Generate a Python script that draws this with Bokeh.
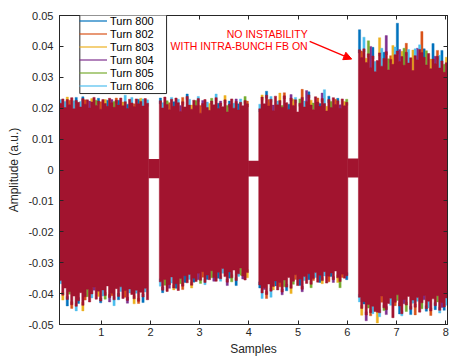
from bokeh.plotting import figure
from bokeh.models import (Range1d, FixedTicker, LinearAxis, Label, Arrow, NormalHead,
                          Legend, LegendItem, ColumnDataSource, BoxAnnotation)
from bokeh.embed import file_html
from bokeh.resources import INLINE

# ---------------- data ----------------
turns = ["Turn 800", "Turn 802", "Turn 803", "Turn 804", "Turn 805", "Turn 806"]
turn_colors = ["#0072BD", "#D95319", "#EDB120", "#7E2F8E", "#77AC30", "#4DBEEE"]
last_turn_color = "#A2142F"

batch_start = [1520, 21800, 42000, 62250]   # samples
batch_len = 18100                            # samples
amp_unit = 1e-3                              # values below in 1e-3 a.u.

# per-bunch envelope of the last (top-most) turn: upper / lower peak
b1_up = [21.6, 23.0, 20.2, 22.8, 21.1, 23.4, 19.8, 22.5, 21.9, 20.4,
         23.1, 21.3, 22.7, 20.1, 22.0, 23.5, 20.9, 22.3, 19.7, 22.8,
         21.5, 20.6, 23.2, 21.8, 20.3, 22.6, 21.0, 23.3, 20.8, 22.1,
         19.9, 22.9, 21.7, 20.5, 23.0, 21.4, 22.2, 20.7, 23.1, 21.6]
b1_lo = [-35.8, -40.5, -38.2, -41.9, -39.4, -43.6, -40.8, -44.1, -42.3, -39.7,
         -43.8, -41.0, -38.6, -42.7, -40.1, -37.9, -41.8, -39.2, -42.4, -38.8,
         -40.6, -37.5, -41.3, -39.9, -42.0, -38.4, -40.9, -37.8, -41.6, -39.0,
         -42.2, -38.5, -40.3, -41.7, -38.9, -42.5, -39.6, -41.1, -38.3, -42.0]
b2_up = [22.4, 20.1, 23.6, 21.2, 19.5, 22.9, 20.6, 23.3, 21.8, 18.9,
         22.1, 20.4, 23.8, 21.0, 19.7, 22.6, 20.9, 23.1, 18.4, 21.5,
         22.8, 20.2, 19.3, 22.3, 21.1, 23.4, 19.9, 21.7, 20.5, 22.7,
         18.8, 21.3, 23.0, 20.0, 22.2, 19.4, 21.9, 20.8, 22.5, 21.4]
b2_lo = [-36.2, -38.9, -35.4, -39.3, -37.1, -34.6, -38.2, -36.8, -39.0, -35.1,
         -37.6, -34.2, -36.5, -33.8, -37.3, -35.0, -36.1, -33.4, -35.7, -32.9,
         -36.4, -34.0, -35.5, -32.6, -34.8, -36.0, -33.1, -35.2, -31.9, -34.5,
         -36.3, -33.0, -34.9, -32.4, -35.8, -33.6, -31.7, -34.3, -35.6, -33.2]
b3_up = [19.8, 23.6, 21.4, 24.2, 20.7, 22.9, 19.2, 23.9, 21.1, 22.5,
         20.3, 24.0, 21.8, 19.6, 23.3, 20.9, 22.7, 18.8, 21.6, 23.5,
         20.4, 22.2, 24.3, 21.0, 19.5, 23.7, 22.0, 20.6, 23.1, 21.5,
         19.1, 22.8, 20.2, 23.4, 21.2, 22.4, 19.9, 23.0, 20.8, 21.9]
b3_lo = [-37.2, -39.8, -38.1, -40.3, -36.9, -39.2, -37.7, -35.9, -38.8, -36.4,
         -39.5, -35.6, -37.9, -34.8, -38.3, -36.0, -33.9, -37.4, -35.3, -38.6,
         -34.5, -36.7, -33.6, -37.0, -35.1, -33.2, -36.3, -34.1, -35.8, -32.9,
         -36.6, -34.4, -33.3, -35.5, -32.7, -34.9, -36.1, -33.7, -35.0, -34.2]
b4_up = [38.9, 36.4, 39.2, 34.8, 37.6, 33.1, 36.9, 31.8, 35.4, 37.9,
         33.6, 36.1, 38.3, 32.4, 35.8, 34.2, 37.3, 38.5, 35.1, 36.7,
         33.9, 38.1, 34.6, 36.3, 32.2, 37.0, 35.6, 39.0, 38.0, 36.5,
         34.0, 37.7, 32.8, 35.9, 34.4, 36.8, 33.0, 35.3, 31.6, 34.7]
b4_lo = [-41.2, -44.8, -42.6, -46.9, -43.5, -46.2, -44.1, -45.8, -46.0, -46.2,
         -40.8, -44.6, -45.2, -43.2, -41.5, -47.8, -42.8, -40.4, -44.0, -46.5,
         -41.9, -43.7, -40.9, -45.1, -42.1, -44.4, -41.3, -46.0, -43.0, -40.6,
         -44.9, -42.5, -45.6, -41.7, -43.9, -40.7, -45.4, -42.9, -44.3, -41.4]

# how far the other turns peak beyond the last turn, and which turn it is
b1_hi_ex = [1.2, 0.0, 2.0, 0.8, 1.5, 0.0, 2.6, 1.0, 0.0, 1.8,
            0.6, 1.4, 0.0, 2.2, 1.1, 0.0, 1.7, 0.9, 2.4, 0.0,
            1.3, 2.0, 0.0, 1.0, 1.9, 0.7, 1.6, 0.0, 1.2, 2.1,
            1.4, 0.0, 1.8, 0.9, 0.0, 1.5, 1.0, 2.3, 0.0, 1.1]
b1_lo_ex = [1.0, 1.6, 0.0, 2.1, 0.8, 1.2, 0.0, 1.5, 0.9, 0.0,
            1.8, 1.1, 2.4, 0.0, 1.3, 1.0, 0.0, 1.7, 0.6, 2.0,
            1.2, 0.0, 1.4, 0.8, 1.9, 0.0, 1.1, 1.5, 0.0, 2.2,
            0.9, 1.3, 0.0, 1.6, 1.0, 0.7, 0.0, 1.8, 1.2, 0.0]
b2_hi_ex = [0.9, 1.7, 0.0, 1.2, 2.3, 0.6, 1.5, 0.0, 1.1, 2.0,
            1.4, 0.0, 0.8, 1.9, 1.3, 0.0, 1.6, 0.7, 2.5, 1.0,
            0.0, 1.8, 2.2, 0.9, 0.0, 1.2, 1.7, 0.6, 0.0, 1.4,
            2.1, 1.0, 0.0, 1.6, 0.8, 2.0, 1.1, 0.0, 1.3, 0.9]
b2_lo_ex = [1.4, 0.8, 1.9, 0.0, 1.2, 2.0, 0.6, 1.5, 0.0, 1.7,
            1.1, 2.2, 0.0, 1.6, 0.9, 1.3, 0.0, 2.1, 1.0, 1.8,
            0.7, 1.4, 0.0, 2.3, 1.2, 0.0, 1.9, 0.8, 1.5, 0.0,
            1.1, 2.0, 1.3, 0.0, 1.6, 0.9, 2.4, 1.0, 0.0, 1.7]
b3_hi_ex = [1.5, 0.7, 0.0, 1.3, 2.1, 0.9, 1.8, 0.0, 1.2, 2.4,
            0.6, 1.0, 0.0, 1.7, 1.1, 2.0, 0.8, 0.0, 1.4, 2.6,
            1.9, 3.5, 1.0, 1.6, 2.2, 0.0, 1.3, 0.9, 1.8, 4.5,
            1.5, 1.1, 2.0, 0.0, 1.7, 0.8, 1.2, 0.0, 1.4, 1.0]
b3_lo_ex = [1.0, 1.8, 0.6, 1.3, 0.0, 2.0, 1.1, 1.6, 0.0, 1.4,
            0.9, 2.2, 1.2, 0.0, 1.7, 1.0, 1.5, 0.0, 2.1, 0.8,
            1.3, 0.0, 1.9, 1.1, 0.7, 1.6, 0.0, 2.3, 1.0, 1.4,
            0.0, 1.8, 1.2, 0.9, 0.0, 1.5, 2.0, 1.1, 0.0, 1.3]
b4_hi_ex = [6.5, 2.1, 3.8, 1.4, 4.2, 6.9, 2.8, 3.3, 0.0, 4.9,
            5.8, 2.0, 5.2, 3.6, 1.2, 6.1, 2.5, 9.0, 3.9, 1.7,
            5.5, 2.9, 4.4, 0.0, 6.6, 2.2, 3.8, 1.5, 6.8, 2.7,
            4.6, 0.0, 3.1, 5.0, 2.4, 1.9, 4.1, 3.4, 2.6, 1.8]
b4_lo_ex = [1.5, 2.2, 0.8, 1.9, 1.2, 1.0, 2.4, 0.0, 3.5, 1.3,
            2.0, 0.9, 1.6, 0.0, 2.3, 0.0, 1.1, 1.8, 2.6, 0.7,
            1.4, 2.1, 0.0, 1.7, 1.0, 2.5, 1.2, 0.0, 1.9, 1.4,
            0.8, 2.2, 1.5, 0.0, 1.3, 2.0, 0.9, 1.6, 1.1, 2.4]
b1_hi_turn = "5052135045015325401520534105250351402515"
b1_lo_turn = "5250413505214053120540315205413502514050"
b2_hi_turn = "0534150253140520451305241503524015305241"
b2_lo_turn = "5041352054103520534150243105523041054302"
b3_hi_turn = "5240153052415032504153024510352045103524"
b3_lo_turn = "0531452051340524150352041530254103524150"
b4_hi_turn = "0152430512503412503241502535104520315042"
b4_lo_turn = "5203415025143052140534205152430512045305"

# inter-batch gaps: small residual band around zero
gap_hi = [3.6, 3.0, 3.7]
gap_lo = [-2.7, -2.1, -2.4]

xtick_vals = [10000, 20000, 30000, 40000, 50000, 60000, 70000, 80000]
xtick_labels = ["1", "2", "3", "4", "5", "6", "7", "8"]
ytick_vals = [-0.05, -0.04, -0.03, -0.02, -0.01, 0.0, 0.01, 0.02, 0.03, 0.04, 0.05]
ytick_labels = ["-0.05", "-0.04", "-0.03", "-0.02", "-0.01", "0",
                "0.01", "0.02", "0.03", "0.04", "0.05"]

note_lines = ["NO INSTABILITY", "WITH INTRA-BUNCH FB ON"]
note_x = 51940
note_y = [0.0439, 0.0400]
arrow_x = [52346, 60884]
arrow_y = [0.0416, 0.0359]

title_parts = ["PU", "\u0394", "Signal - 4 Batch Train - Intra-Bunch FB ON"]

# ---------------- build glyph data ----------------
ups = [b1_up, b2_up, b3_up, b4_up]
los = [b1_lo, b2_lo, b3_lo, b4_lo]
hi_ex = [b1_hi_ex, b2_hi_ex, b3_hi_ex, b4_hi_ex]
lo_ex = [b1_lo_ex, b2_lo_ex, b3_lo_ex, b4_lo_ex]
hi_turn = [b1_hi_turn, b2_hi_turn, b3_hi_turn, b4_hi_turn]
lo_turn = [b1_lo_turn, b2_lo_turn, b3_lo_turn, b4_lo_turn]

tips = [dict(left=[], right=[], bottom=[], top=[]) for _ in turns]
band = dict(left=[], right=[], bottom=[], top=[])
poly_xs, poly_ys = [], []

def add(d, l, r, b, t):
    d["left"].append(l); d["right"].append(r); d["bottom"].append(b); d["top"].append(t)

for b in range(4):
    n = len(ups[b])
    w = batch_len / n
    edges = [batch_start[b] + i * w for i in range(n + 1)]
    xs, ys = [], []
    for i in range(n):
        xs += [edges[i], edges[i + 1]]
        ys += [ups[b][i] * amp_unit, ups[b][i] * amp_unit]
    for i in reversed(range(n)):
        xs += [edges[i + 1], edges[i]]
        ys += [los[b][i] * amp_unit, los[b][i] * amp_unit]
    poly_xs.append(xs)
    poly_ys.append(ys)
    for i in range(n):
        x0, x1 = edges[i], edges[i + 1]
        u = ups[b][i] * amp_unit
        lo = los[b][i] * amp_unit
        he = hi_ex[b][i % len(hi_ex[b])]
        if he > 0:
            k = int(hi_turn[b][i % len(hi_turn[b])])
            add(tips[k], x0, x1, u - 0.001, u + he * amp_unit)
        le = lo_ex[b][i % len(lo_ex[b])]
        if le > 0:
            k = int(lo_turn[b][i % len(lo_turn[b])])
            add(tips[k], x0, x1, lo - le * amp_unit, lo + 0.001)

for g in range(3):
    add(band, batch_start[g] + batch_len - 60, batch_start[g + 1] + 60,
        gap_lo[g] * amp_unit, gap_hi[g] * amp_unit)

# ---------------- figure ----------------
FONT = "Liberation Sans"
AX = "#262626"

p = figure(width=451, height=358, output_backend="svg", toolbar_location=None,
           title=None,
           x_range=Range1d(1520, 80350), y_range=Range1d(-0.05, 0.05),
           min_border_left=59, min_border_right=4, min_border_top=15, min_border_bottom=33,
           background_fill_color="white", border_fill_color="white")
p.xgrid.visible = False
p.ygrid.visible = False
p.outline_line_color = AX

for k in range(len(turns)):
    p.quad(source=ColumnDataSource(tips[k]), left="left", right="right",
           bottom="bottom", top="top", fill_color=turn_colors[k],
           line_color=turn_colors[k], line_width=0.4)
p.patches(xs=poly_xs, ys=poly_ys, fill_color=last_turn_color,
          line_color=last_turn_color, line_width=0.5)
p.quad(source=ColumnDataSource(band), left="left", right="right", bottom="bottom",
       top="top", fill_color=last_turn_color, line_color=None)

# axes
p.xaxis.ticker = FixedTicker(ticks=xtick_vals, minor_ticks=[])
p.yaxis.ticker = FixedTicker(ticks=ytick_vals, minor_ticks=[])
p.xaxis.major_label_overrides = dict(zip(xtick_vals, xtick_labels))
p.yaxis.major_label_overrides = dict(zip(ytick_vals, ytick_labels))
p.xaxis.axis_label = "Samples"
p.yaxis.axis_label = "Amplitude (a.u.)"
for ax in [p.xaxis[0], p.yaxis[0]]:
    ax.major_tick_in = 4
    ax.major_tick_out = 0
    ax.minor_tick_in = 0
    ax.minor_tick_out = 0
    ax.axis_line_color = AX
    ax.major_tick_line_color = AX
    ax.major_label_text_color = AX
    ax.major_label_text_font = FONT
    ax.major_label_text_font_size = "11px"
    ax.axis_label_text_font = FONT
    ax.axis_label_text_font_size = "12px"
    ax.axis_label_text_font_style = "normal"
    ax.axis_label_text_color = AX
p.yaxis.major_label_standoff = 6
p.yaxis.axis_label_standoff = 4
p.xaxis.major_label_standoff = 3
p.xaxis.axis_label_standoff = 3

for place, tick in [("above", xtick_vals), ("right", ytick_vals)]:
    a = LinearAxis(ticker=FixedTicker(ticks=tick, minor_ticks=[]),
                   major_label_text_font_size="0px", major_label_standoff=0,
                   major_tick_in=4, major_tick_out=0, minor_tick_in=0, minor_tick_out=0,
                   axis_line_color=AX, major_tick_line_color=AX)
    p.add_layout(a, place)

# legend frame (white box with dark border), then the legend entries on top
legend_box = BoxAnnotation(left=5650, right=23275, bottom=0.02474, top=0.0512,
                           fill_color="white", fill_alpha=1.0,
                           line_color=AX, line_width=1, line_alpha=1.0)
p.add_layout(legend_box)

items = []
for t, c in zip(turns, turn_colors):
    r = p.line(x=[-9000, -8000], y=[0.0, 0.0], line_color=c, line_width=1.2)
    items.append(LegendItem(label=t, renderers=[r]))
legend = Legend(items=items, location=(20, 232), margin=0, padding=2, spacing=0,
                glyph_height=13, glyph_width=28, label_height=13, label_width=50,
                label_standoff=3,
                label_text_font=FONT, label_text_font_size="11px",
                label_text_color="#000000", border_line_color=None,
                background_fill_alpha=0.0)
p.add_layout(legend)

# annotation
for txt, yy in zip(note_lines, note_y):
    p.add_layout(Label(x=note_x, y=yy, text=txt, text_align="right",
                       text_baseline="middle", text_color="#FF0000",
                       text_font=FONT, text_font_size="10.5px"))
p.add_layout(Arrow(end=NormalHead(size=8, fill_color="#FF0000", line_color="#FF0000"),
                   x_start=arrow_x[0], y_start=arrow_y[0],
                   x_end=arrow_x[1], y_end=arrow_y[1],
                   line_color="#FF0000", line_width=1.4))

# x10^4 multiplier
p.add_layout(Label(x=75500, y=-0.0600, text="\u00d710", text_align="left",
                   text_baseline="middle", text_color=AX, text_font=FONT,
                   text_font_size="11px"))
p.add_layout(Label(x=79480, y=-0.0580, text="4", text_align="left",
                   text_baseline="middle", text_color=AX, text_font=FONT,
                   text_font_size="8px"))

# title (mostly cut off at the top, as in the original)
p.add_layout(Label(x=14533, y=0.05377, text=title_parts[0], text_align="right",
                   text_baseline="alphabetic", text_color="#000000", text_font=FONT,
                   text_font_size="12px", text_font_style="bold"))
p.add_layout(Label(x=14700, y=0.05216, text=title_parts[1], text_align="left",
                   text_baseline="alphabetic", text_color="#000000", text_font=FONT,
                   text_font_size="9px", text_font_style="bold"))
p.add_layout(Label(x=17583, y=0.05377, text=title_parts[2], text_align="left",
                   text_baseline="alphabetic", text_color="#000000", text_font=FONT,
                   text_font_size="12px", text_font_style="bold"))

open("out.html", "w").write(file_html(p, INLINE))
